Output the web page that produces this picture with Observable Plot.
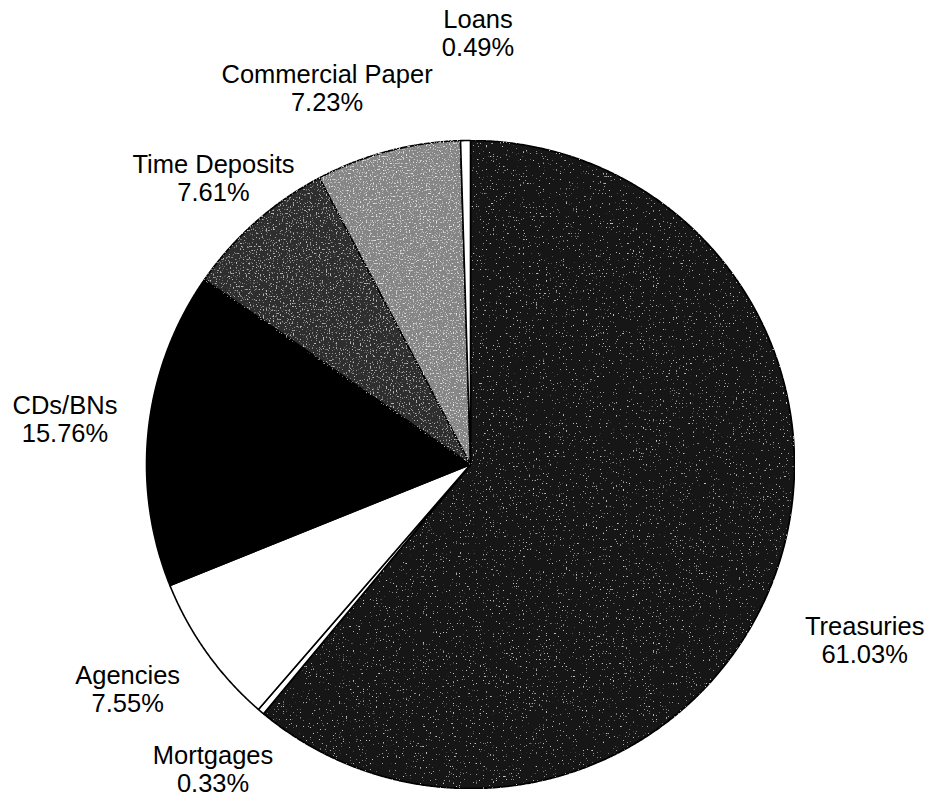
<!DOCTYPE html>
<html>
<head>
<meta charset="utf-8">
<script src="https://cdn.jsdelivr.net/npm/d3@7"></script>
<script src="https://cdn.jsdelivr.net/npm/@observablehq/plot@0.6"></script>
<style>
  html, body { margin: 0; padding: 0; background: #fff; }
  #chart svg { display: block; }
</style>
</head>
<body>
<div id="chart"></div>
<script>
// ---- data ----
const categories = ["Treasuries", "Mortgages", "Agencies", "CDs/BNs", "Time Deposits", "Commercial Paper", "Loans"];
const shares = [61.03, 0.33, 7.55, 15.76, 7.61, 7.23, 0.49];
const labelText = ["61.03%", "0.33%", "7.55%", "15.76%", "7.61%", "7.23%", "0.49%"];

// ---- styling / layout ----
const sliceColors = ["#121212", "#ffffff", "#ffffff", "#000000", "#2e2e2e", "#858585", "#ffffff"];
// speckle texture per slice: [alpha gain, alpha offset, speckle grey]
const speckle = {
  "Treasuries": [14, -9.6, 0.55],
  "Time Deposits": [8, -4.8, 0.5],
  "Commercial Paper": [6, -3.4, 0.78]
};
const labelNudge = { // px nudges relative to default label anchor
  "Treasuries": [-2, 32],
  "Mortgages": [15, -17],
  "Agencies": [0, -20],
  "CDs/BNs": [13, 2],
  "Time Deposits": [22, 29],
  "Commercial Paper": [-36, 31],
  "Loans": [14, -10]
};
const W = 930, H = 797;
const cx = 470, cy = 464, R = 324, labelR = 1.3;

const pie = d3.pie().sort(null).value(d => d.share)(
  categories.map((name, i) => ({ name, share: shares[i], pct: labelText[i] }))
);

// polygon points for each slice (center -> arc -> center), in data units (radius = 1)
const pts = [];
for (const a of pie) {
  const nm = a.data.name;
  pts.push({ name: nm, x: 0, y: 0 });
  const n = Math.max(2, Math.ceil((a.endAngle - a.startAngle) / 0.004));
  for (let k = 0; k <= n; k++) {
    const t = a.startAngle + (a.endAngle - a.startAngle) * k / n;
    pts.push({ name: nm, x: Math.sin(t), y: Math.cos(t) });
  }
  pts.push({ name: nm, x: 0, y: 0 });
}

const labels = pie.map(a => {
  const m = (a.startAngle + a.endAngle) / 2;
  return {
    name: a.data.name,
    text: a.data.name + "\n" + a.data.pct,
    x: labelR * Math.sin(m),
    y: labelR * Math.cos(m)
  };
});

const plot = Plot.plot({
  width: W,
  height: H,
  margin: 0,
  x: { domain: [-cx / R, (W - cx) / R], range: [0, W], axis: null },
  y: { domain: [cy / R, -(H - cy) / R], range: [0, H], axis: null },
  color: { domain: categories, range: sliceColors },
  style: { background: "#fff" },
  marks: [
    Plot.line(pts, {
      x: "x", y: "y", z: "name",
      fill: "name",
      stroke: "#000",
      strokeWidth: 1.6,
      strokeLinejoin: "round",
      title: "name"
    }),
    ...labels.map(l => Plot.text([l], {
      x: "x", y: "y", text: "text",
      dx: labelNudge[l.name][0], dy: labelNudge[l.name][1],
      fontSize: 25.5,
      lineHeight: 1.1,
      fontFamily: "Liberation Sans, Arial, sans-serif",
      fill: "#000",
      textAnchor: "middle"
    }))
  ]
});

// add speckle filters (texture only)
const svg = d3.select(plot.tagName === "svg" ? plot : plot.querySelector("svg"));
const defs = svg.insert("defs", ":first-child");
Object.entries(speckle).forEach(([name, [g, o, c]], i) => {
  const f = defs.append("filter").attr("id", "speckle" + i)
    .attr("x", 0).attr("y", 0).attr("width", 1).attr("height", 1);
  f.append("feTurbulence").attr("type", "fractalNoise").attr("baseFrequency", 0.7)
    .attr("numOctaves", 1).attr("seed", 3 + i).attr("result", "noise");
  f.append("feColorMatrix").attr("in", "noise").attr("type", "matrix")
    .attr("values", `0 0 0 0 ${c}  0 0 0 0 ${c}  0 0 0 0 ${c}  ${g} 0 0 0 ${o}`)
    .attr("result", "dots");
  f.append("feComposite").attr("in", "dots").attr("in2", "SourceGraphic")
    .attr("operator", "in").attr("result", "clipped");
  const m = f.append("feMerge");
  m.append("feMergeNode").attr("in", "SourceGraphic");
  m.append("feMergeNode").attr("in", "clipped");
  svg.selectAll("path").each(function () {
    const t = this.querySelector("title");
    if (t && t.textContent === name) {
      d3.select(this).attr("filter", `url(#speckle${i})`);
    }
  });
});
svg.selectAll("path title").remove();

document.getElementById("chart").appendChild(plot);
</script>
</body>
</html>
